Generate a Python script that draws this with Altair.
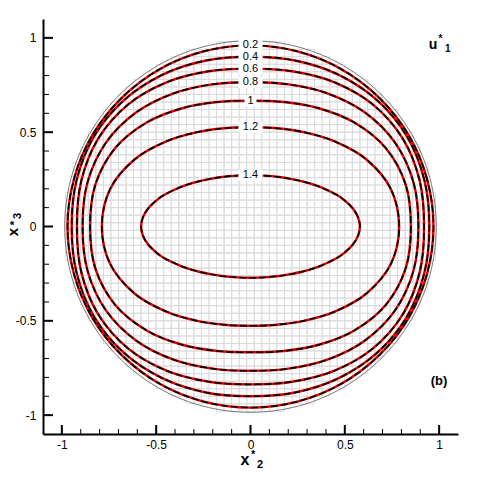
import altair as alt
import pandas as pd
import numpy as np

# ---------------- data ----------------
LEVELS = [0.2, 0.4, 0.6, 0.8, 1.0, 1.2, 1.4]
LEVEL_TEXT = ["0.2", "0.4", "0.6", "0.8", "1", "1.2", "1.4"]
# polar angles (deg, first quadrant) at which each contour's radius was read
A_STD = [0, 15, 30, 45, 60, 75, 90]
A_FINE = [0, 5, 10, 15, 20, 30, 40, 50, 60, 75, 90]
R_U02 = [0.970, 0.969, 0.968, 0.965, 0.963, 0.961, 0.960]
R_U04 = [0.948, 0.954, 0.957, 0.948, 0.930, 0.911, 0.900]
R_U06 = [0.920, 0.929, 0.932, 0.916, 0.884, 0.852, 0.837]
R_U08 = [0.890, 0.895, 0.886, 0.856, 0.815, 0.780, 0.765]
R_U10 = [0.850, 0.852, 0.829, 0.779, 0.724, 0.683, 0.667]
R_U12 = [0.788, 0.770, 0.710, 0.636, 0.576, 0.539, 0.526]
R_U14 = [0.580, 0.572, 0.551, 0.521, 0.488, 0.422, 0.369, 0.330, 0.303, 0.279, 0.272]
WALL_R = [0.985, 0.985, 0.985, 0.985, 0.985, 0.985, 0.985]
CONTOUR_ANGLES = [A_STD, A_STD, A_STD, A_STD, A_STD, A_STD, A_FINE]
CONTOUR_RADII = [R_U02, R_U04, R_U06, R_U08, R_U10, R_U12, R_U14]

MESH_STEP = 0.04
MESH_HALF_COUNT = 24
MESH_LIMIT = 1.0

ALL_TICKS = [-1.0, -0.9, -0.8, -0.7, -0.6, -0.5, -0.4, -0.3, -0.2, -0.1, 0.0,
             0.1, 0.2, 0.3, 0.4, 0.5, 0.6, 0.7, 0.8, 0.9, 1.0]
MAJOR_TICKS = [-1.0, -0.5, 0.0, 0.5, 1.0]
DOMAIN = [-1.1, 1.1]

W = 415
H = 415
FONT = "Liberation Sans"

# ---------------- build tables ----------------
def closed_loop(angles, radii, name):
    """Mirror first-quadrant polar readings into a full closed loop."""
    pts = []
    q = list(zip(angles, radii))
    for a, r in q:                       # 0..90
        pts.append((a, r))
    for a, r in reversed(q[:-1]):        # 90..180
        pts.append((180 - a, r))
    for a, r in q[1:]:                   # 180..270
        pts.append((180 + a, r))
    for a, r in reversed(q[1:-1]):       # 270..360
        pts.append((360 - a, r))
    rows = []
    for k, (th, r) in enumerate(pts):
        rad = np.deg2rad(th)
        rows.append({"name": name, "order": k,
                     "x": float(r * np.cos(rad)), "y": float(r * np.sin(rad))})
    return rows

rows = []
for lab, ang, radii in zip(LEVEL_TEXT, CONTOUR_ANGLES, CONTOUR_RADII):
    rows += closed_loop(ang, radii, lab)
contours = pd.DataFrame(rows)
wall = pd.DataFrame(closed_loop(A_STD, WALL_R, "wall"))

cells = []
h = MESH_STEP / 2
for i in range(-MESH_HALF_COUNT, MESH_HALF_COUNT + 1):
    for j in range(-MESH_HALF_COUNT, MESH_HALF_COUNT + 1):
        xc, yc = i * MESH_STEP, j * MESH_STEP
        if (abs(xc) + h) ** 2 + (abs(yc) + h) ** 2 <= MESH_LIMIT ** 2 + 1e-9:
            cells.append({"x0": xc - h, "x1": xc + h, "y0": yc - h, "y1": yc + h})
mesh = pd.DataFrame(cells)

labels = pd.DataFrame({
    "text": LEVEL_TEXT,
    "y": [r[-1] for r in CONTOUR_RADII],
})
labels["xc"] = 0.0
labels["xl"] = -(0.016 * labels["text"].str.len() + 0.016)
labels["xr"] = -labels["xl"]
labels["yl"] = labels["y"] - 0.03
labels["yh"] = labels["y"] + 0.03

ticks = pd.DataFrame({"v": ALL_TICKS})
ticks["major"] = ticks["v"].isin(MAJOR_TICKS)
major_ticks = ticks[ticks["major"]]
minor_ticks = ticks[~ticks["major"]]

# ---------------- encodings ----------------
xs = alt.Scale(domain=DOMAIN, nice=False, zero=False)
ys = alt.Scale(domain=DOMAIN, nice=False, zero=False)

axis_common = dict(ticks=False, tickSize=0, grid=False, title=None,
                   domain=True, domainColor="black", domainWidth=2,
                   labelFont=FONT, labelFontSize=12, labelColor="black",
                   values=MAJOR_TICKS, labelExpr="'' + datum.value")
AX_X = alt.Axis(orient="bottom", labelPadding=5, **axis_common)
AX_Y = alt.Axis(orient="left", labelPadding=7, **axis_common)

def X(f):
    return alt.X(f, type="quantitative", scale=xs, axis=AX_X)

def Y(f):
    return alt.Y(f, type="quantitative", scale=ys, axis=AX_Y)

mesh_layer = alt.Chart(mesh).mark_rect(
    filled=False, stroke="#d9d9d9", strokeWidth=0.8
).encode(x=X("x0"), x2="x1", y=Y("y0"), y2="y1")

wall_layer = alt.Chart(wall).mark_line(
    interpolate="cardinal-closed", color="#555555", strokeWidth=0.8
).encode(x=X("x"), y=Y("y"), detail="name:N", order="order:Q")

red_layer = alt.Chart(contours).mark_line(
    interpolate="cardinal-closed", color="#e00000", strokeWidth=2.4
).encode(x=X("x"), y=Y("y"), detail="name:N", order="order:Q")

black_layer = alt.Chart(contours).mark_line(
    interpolate="cardinal-closed", color="black", strokeWidth=1.6,
    strokeDash=[7, 3], strokeCap="butt"
).encode(x=X("x"), y=Y("y"), detail="name:N", order="order:Q")

label_bg = alt.Chart(labels).mark_rect(fill="white").encode(
    x=X("xl"), x2="xr", y=Y("yl"), y2="yh"
)
label_txt = alt.Chart(labels).mark_text(
    font=FONT, fontSize=11, color="black", align="center", baseline="middle"
).encode(x=X("xc"), y=Y("y"), text="text:N")

# tick marks pointing into the plot
xt_major = alt.Chart(major_ticks).mark_rule(color="black", strokeWidth=2).encode(
    x=X("v"), y=alt.value(H), y2=alt.value(H - 9))
xt_minor = alt.Chart(minor_ticks).mark_rule(color="black", strokeWidth=1).encode(
    x=X("v"), y=alt.value(H), y2=alt.value(H - 5))
yt_major = alt.Chart(major_ticks).mark_rule(color="black", strokeWidth=2).encode(
    y=Y("v"), x=alt.value(0), x2=alt.value(10))
yt_minor = alt.Chart(minor_ticks).mark_rule(color="black", strokeWidth=1).encode(
    y=Y("v"), x=alt.value(0), x2=alt.value(6))

def note(text, px, py, size, align="left", angle=0):
    return alt.Chart(pd.DataFrame({"t": [text]})).mark_text(
        font=FONT, fontSize=size, fontWeight="bold", color="black",
        align=align, baseline="alphabetic", angle=angle
    ).encode(text="t:N", x=alt.value(px), y=alt.value(py))

notes = [
    note("u", 390, 30, 14, "center"),
    note("*", 395.5, 23, 10),
    note("1", 402, 33, 10),
    note("(b)", 396, 366, 13, "center"),
    note("x", 202, 446, 16, "center"),
    note("*", 208, 439, 11),
    note("2", 214, 449, 11),
    note("x", -25, 213, 15, "center", 270),
    note("*", -25.5, 204, 11, "center", 270),
    note("3", -22, 197, 11, "center", 270),
]

chart = alt.layer(
    mesh_layer, wall_layer, red_layer, black_layer, label_bg, label_txt,
    xt_major, xt_minor, yt_major, yt_minor, *notes
).properties(
    width=W, height=H,
    autosize=alt.AutoSizeParams(type="none"),
    padding={"left": 35, "top": 11, "right": 12, "bottom": 36},
    background="white",
).configure_view(stroke=None)

chart.save("out.html", embed_options={"renderer": "svg", "actions": False})
